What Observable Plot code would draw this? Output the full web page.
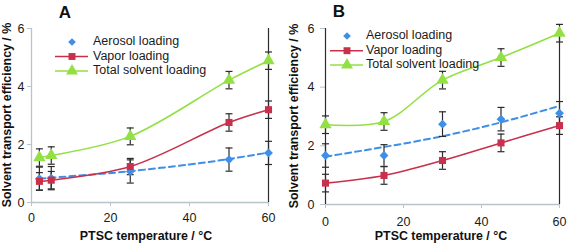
<!DOCTYPE html>
<html>
<head>
<meta charset="utf-8">
<script src="https://cdn.jsdelivr.net/npm/d3@7"></script>
<script src="https://cdn.jsdelivr.net/npm/@observablehq/plot@0.6"></script>
<style>
  body { margin: 0; background: #fff; }
  #wrap { position: relative; width: 567px; height: 245px; overflow: hidden; }
  #wrap svg { position: absolute; top: 0; }
</style>
</head>
<body>
<div id="wrap"></div>
<script>
// ---------- data ----------
const seriesNames = ["Aerosol loading", "Vapor loading", "Total solvent loading"];
const xTicks = [0, 20, 40, 60];
const yTicks = [0, 2, 4, 6];

// Panel A
const tempA = [2, 5, 25, 50, 60];
const aerosolA = [0.82, 0.84, 1.07, 1.48, 1.71];
const aerosolErrA = [0.4, 0.4, 0.4, 0.4, 0.4];
const vaporA = [0.73, 0.77, 1.24, 2.76, 3.2];
const vaporErrA = [0.3, 0.3, 0.28, 0.3, 0.3];
const totalA = [1.55, 1.62, 2.28, 4.22, 4.89];
const totalErrA = [0.3, 0.3, 0.29, 0.3, 0.3];
const trendXA = [2, 15, 25, 40, 50, 60];
const trendYA = [0.82, 0.96, 1.08, 1.31, 1.5, 1.72];

// Panel B
const tempB = [0, 15, 30, 45, 60];
const aerosolB = [1.67, 1.67, 2.74, 2.91, 3.11];
const aerosolErrB = [0.4, 0.37, 0.42, 0.4, 0.4];
const vaporB = [0.73, 0.99, 1.5, 2.1, 2.69];
const vaporErrB = [0.3, 0.3, 0.3, 0.3, 0.3];
const totalB = [2.72, 2.83, 4.24, 5.01, 5.84];
const totalErrB = [0.3, 0.3, 0.3, 0.3, 0.3];
const trendXB = [0, 15, 30, 45, 60];
const trendYB = [1.63, 1.96, 2.33, 2.8, 3.36];

// ---------- styles ----------
const colors = { aerosol: "#3f8fe6", vapor: "#c8304c", total: "#92e044" };
const axisGray = "#b7c4cb";
const barColor = "#2b2b2b";
const FONT = "'Liberation Sans', Arial, sans-serif";

const capSymbol = { draw(ctx) { ctx.moveTo(-3.5, 0); ctx.lineTo(3.5, 0); } };

function rows(xs, ys, es) {
  return xs.map((x, i) => ({ x, y: ys[i], lo: ys[i] - es[i], hi: ys[i] + es[i] }));
}

function panel(opt) {
  const aer = rows(opt.temp, opt.aerosol, opt.aerosolErr);
  const vap = rows(opt.temp, opt.vapor, opt.vaporErr);
  const tot = rows(opt.temp, opt.total, opt.totalErr);
  const trend = opt.trendX.map((x, i) => ({ x, y: opt.trendY[i] }));
  const all = [...aer, ...vap, ...tot];

  const marks = [
    Plot.ruleY([0], { stroke: axisGray, strokeWidth: 1.3 }),
    opt.darkLeft ? null : Plot.ruleX([0], { stroke: axisGray, strokeWidth: 1.3 }),
    Plot.axisY({ ticks: yTicks, tickFormat: d => String(d), tickSize: opt.tickSize, tickPadding: opt.tickPadding,
      stroke: axisGray, label: null, textAnchor: "end", fill: "#1a1a1a" }),
    Plot.axisX({ ticks: xTicks, tickFormat: d => String(d), tickSize: 4, tickPadding: opt.xPad,
      stroke: axisGray, label: null, fill: "#1a1a1a" }),
    Plot.line(trend, { x: "x", y: "y", stroke: colors.aerosol, strokeWidth: 2, strokeDasharray: "6,4", curve: "natural" }),
    Plot.line(vap, { x: "x", y: "y", stroke: colors.vapor, strokeWidth: 1.6, curve: "catmull-rom" }),
    Plot.line(tot, { x: "x", y: "y", stroke: colors.total, strokeWidth: 1.6, curve: "catmull-rom" }),
    Plot.ruleX([60], { y1: 0, y2: 6, stroke: barColor, strokeWidth: 1.2 }),
    opt.darkLeft ? Plot.ruleX([0], { y1: 0, y2: 6, stroke: barColor, strokeWidth: 1.2 }) : null,
    Plot.ruleX(all, { x: "x", y1: "lo", y2: "hi", stroke: barColor, strokeWidth: 1.2 }),
    Plot.dot(all, { x: "x", y: "lo", symbol: capSymbol, stroke: barColor, strokeWidth: 1.2, r: 3 }),
    Plot.dot(all, { x: "x", y: "hi", symbol: capSymbol, stroke: barColor, strokeWidth: 1.2, r: 3 }),
    Plot.dot(aer, { x: "x", y: "y", symbol: "diamond2", r: 4, fill: colors.aerosol, stroke: "none" }),
    Plot.dot(vap, { x: "x", y: "y", symbol: "square", r: 4, fill: colors.vapor, stroke: "none" }),
    Plot.dot(tot, { x: "x", y: "y", symbol: "triangle", r: 4.6, fill: colors.total, stroke: "none" })
  ].filter(Boolean);

  const svg = Plot.plot({
    width: opt.width, height: 245,
    marginLeft: opt.ml, marginRight: opt.mr, marginTop: opt.mt, marginBottom: opt.mb,
    x: { domain: [0, 60] },
    y: { domain: [0, 6] },
    style: { fontSize: "12.5px", fontFamily: FONT, color: "#1a1a1a", background: "transparent", overflow: "visible" },
    marks
  });
  svg.style.left = opt.left + "px";

  const s = d3.select(svg);
  // panel letter
  s.append("text").attr("x", opt.titleX).attr("y", opt.titleY).attr("text-anchor", "middle")
    .attr("font-family", FONT).attr("font-weight", "bold").attr("font-size", 17).attr("fill", "#111").text(opt.title);
  // y label
  s.append("text").attr("transform", `translate(${opt.ylabX},${opt.ylabY}) rotate(-90)`)
    .attr("text-anchor", "middle").attr("dominant-baseline", "middle")
    .attr("font-family", FONT).attr("font-weight", "bold").attr("font-size", 12.4).attr("fill", "#111")
    .text("Solvent transport efficiency / %");
  // x label
  s.append("text").attr("x", opt.xlabX).attr("y", 240).attr("text-anchor", "middle")
    .attr("font-family", FONT).attr("font-weight", "bold").attr("font-size", 12.4).attr("fill", "#111")
    .text("PTSC temperature / °C");

  // legend
  const lg = s.append("g").attr("text-anchor", "start");
  const keys = ["aerosol", "vapor", "total"];
  seriesNames.forEach((name, i) => {
    const y = opt.legY[i];
    const c = colors[keys[i]];
    if (i > 0) lg.append("line").attr("x1", opt.legX1).attr("x2", opt.legX2).attr("y1", y).attr("y2", y)
      .attr("stroke", c).attr("stroke-width", 1.6);
    let path;
    if (i === 0) path = d3.symbol(d3.symbolSquare, 30)();
    else if (i === 1) path = d3.symbol(d3.symbolSquare, 48)();
    else path = d3.symbol(d3.symbolTriangle, 62)();
    lg.append("path").attr("d", path).attr("fill", c)
      .attr("transform", `translate(${opt.legM},${y})` + (i === 0 ? " rotate(45)" : ""));
    lg.append("text").attr("x", opt.legT).attr("y", y).attr("dominant-baseline", "middle")
      .attr("text-anchor", "start")
      .attr("font-family", FONT).attr("font-size", 12.5).attr("fill", "#1a1a1a").text(name);
  });
  return svg;
}

const wrap = document.getElementById("wrap");
wrap.appendChild(panel({
  left: 0, width: 283, ml: 31, mr: 15, mt: 28, mb: 43,
  tickSize: 4, tickPadding: 3, xPad: 7, darkLeft: false,
  temp: tempA, aerosol: aerosolA, aerosolErr: aerosolErrA, vapor: vaporA, vaporErr: vaporErrA,
  total: totalA, totalErr: totalErrA, trendX: trendXA, trendY: trendYA,
  title: "A", titleX: 65, titleY: 18, ylabX: 8, ylabY: 115, xlabX: 146,
  legY: [42, 56.5, 71], legX1: 55, legX2: 88, legM: 72, legT: 93
}));
wrap.appendChild(panel({
  left: 283, width: 284, ml: 42, mr: 8, mt: 28, mb: 41,
  tickSize: 5, tickPadding: 6, xPad: 9, darkLeft: true,
  temp: tempB, aerosol: aerosolB, aerosolErr: aerosolErrB, vapor: vaporB, vaporErr: vaporErrB,
  total: totalB, totalErr: totalErrB, trendX: trendXB, trendY: trendYB,
  title: "B", titleX: 56, titleY: 17, ylabX: 12, ylabY: 116, xlabX: 158,
  legY: [36, 50.7, 65], legX1: 47, legX2: 80, legM: 64, legT: 83
}));
</script>
</body>
</html>
